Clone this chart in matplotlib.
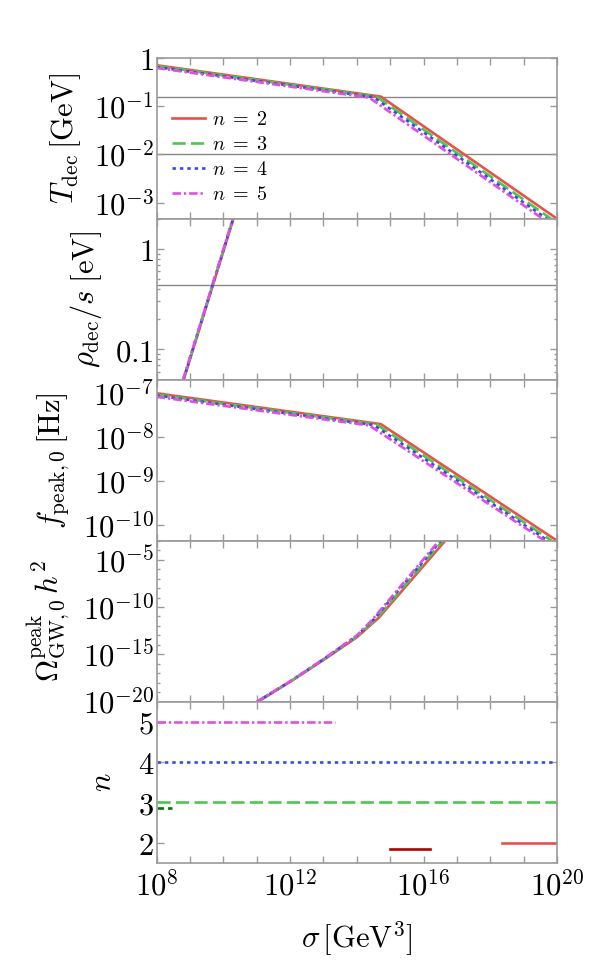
import numpy as np
import matplotlib
matplotlib.use("Agg")
import matplotlib.pyplot as plt
from matplotlib.ticker import FixedLocator, FuncFormatter, NullLocator, LogLocator

plt.rcParams['mathtext.fontset'] = 'cm'
plt.rcParams['font.family'] = ['DejaVu Serif']

# ---- data (log10 values) ----
n_vals = [2, 3, 4, 5]

# T_dec [GeV]
tdec_x = {2: [8, 14.72, 20.0], 3: [8, 14.60, 19.82], 4: [8, 14.50, 19.69], 5: [8, 14.37, 19.57]}
tdec_y = {2: [-0.157, -0.805, -3.33], 3: [-0.175, -0.810, -3.33], 4: [-0.195, -0.816, -3.33], 5: [-0.213, -0.826, -3.33]}

# rho_dec / s [eV]
rho_x = {2: [8.81, 10.30], 3: [8.80, 10.29], 4: [8.80, 10.29], 5: [8.79, 10.28]}
rho_y = {2: [-1.30, 0.30], 3: [-1.30, 0.30], 4: [-1.30, 0.30], 5: [-1.30, 0.30]}

# f_peak,0 [Hz]
fpk_x = {2: [8, 14.72, 20.0], 3: [8, 14.60, 19.84], 4: [8, 14.50, 19.73], 5: [8, 14.37, 19.63]}
fpk_y = {2: [-7.00, -7.70, -10.35], 3: [-7.03, -7.71, -10.35], 4: [-7.05, -7.72, -10.35], 5: [-7.08, -7.73, -10.35]}

# Omega_GW,0 h^2 peak
om_x = {2: [11.04, 12.0, 13.0, 14.0, 14.66, 16.65],
        3: [11.02, 12.0, 13.0, 14.0, 14.58, 16.58],
        4: [11.01, 12.0, 13.0, 14.0, 14.50, 16.52],
        5: [11.00, 12.0, 13.0, 14.0, 14.45, 16.47]}
om_y = {2: [-20, -17.90, -15.60, -13.20, -11.13, -3],
        3: [-20, -17.88, -15.56, -13.12, -11.25, -3],
        4: [-20, -17.86, -15.52, -13.05, -11.33, -3],
        5: [-20, -17.85, -15.50, -13.00, -11.40, -3]}

# n panel segments: (x_start, x_end, n)
seg_n5 = (8, 13.35, 5)
seg_n4 = (8, 20, 4)
seg_n3 = (8, 20, 3)
seg_n3_dark = (8, 8.46, 2.85)
seg_n2_dark = (14.99, 16.2, 1.84)
seg_n2 = (18.34, 20, 2)

# reference lines
tdec_hlines = [0.155, 0.01]
rho_hline = 0.44

colors = {2: '#e5534b', 3: '#4cc84c', 4: '#3b48e6', 5: '#e050e0'}
styles = {2: '-', 3: (0, (5.0, 2.0)), 4: (0, (1.3, 1.5)), 5: (0, (3.2, 1.1, 0.9, 1.1))}
lw = 1.9
gray = '#9a9a9a'

fig = plt.figure(figsize=(6.11, 9.76), dpi=100)
gs = fig.add_gridspec(5, 1, left=0.2565, right=0.9115, top=0.9409, bottom=0.1161, hspace=0)
axes = [fig.add_subplot(gs[i]) for i in range(5)]
for a in axes[1:]:
    a.sharex(axes[0])

tick_fs = 22
label_fs = 22


def pow_fmt(v, pos):
    e = int(round(np.log10(v)))
    return r'$10^{%d}$' % e


for ax in axes:
    ax.set_xscale('log')
    ax.set_xlim(1e8, 1e20)
    ax.xaxis.set_major_locator(FixedLocator([10.0 ** k for k in range(8, 21)]))
    ax.xaxis.set_minor_locator(NullLocator())
    ax.tick_params(which='both', direction='in', top=True, right=True, color=gray,
                   labelsize=tick_fs, width=1.0, pad=2)
    ax.tick_params(which='major', length=5)
    ax.tick_params(which='minor', length=2.5)
    for s in ax.spines.values():
        s.set_color(gray)
        s.set_linewidth(1.2)
    if ax is not axes[-1]:
        ax.tick_params(labelbottom=False)

# panel 1
ax = axes[0]
ax.set_yscale('log')
for y0 in tdec_hlines:
    ax.axhline(y0, color='#888888', lw=1.0, zorder=1)
for n in n_vals:
    ax.plot(10.0 ** np.array(tdec_x[n]), 10.0 ** np.array(tdec_y[n]), color=colors[n],
            linestyle=styles[n], lw=lw, label=r'$n\;=\;%d$' % n)
ax.set_ylim(10 ** -3.33, 1)
ax.yaxis.set_major_locator(FixedLocator([1e-3, 1e-2, 1e-1, 1]))
ax.yaxis.set_minor_locator(NullLocator())
ax.yaxis.set_major_formatter(FuncFormatter(lambda v, p: r'$1$' if v == 1 else pow_fmt(v, p)))
ax.set_ylabel(r'$T_{\rm dec}\,[{\rm GeV}]$', fontsize=label_fs, labelpad=8)
ax.legend(loc='upper left', bbox_to_anchor=(0.0375, 0.674), frameon=False, fontsize=14.5,
          handlelength=1.65, handletextpad=0.35, labelspacing=0.3, borderaxespad=0,
          borderpad=0)

# panel 2
ax = axes[1]
ax.set_yscale('log')
ax.axhline(rho_hline, color='#888888', lw=1.0, zorder=1)
for n in n_vals:
    ax.plot(10.0 ** np.array(rho_x[n]), 10.0 ** np.array(rho_y[n]), color=colors[n],
            linestyle=styles[n], lw=lw)
ax.set_ylim(0.05, 2.0)
ax.yaxis.set_major_locator(FixedLocator([0.1, 1]))
ax.yaxis.set_minor_locator(LogLocator(subs=np.arange(2, 10), numticks=10))
ax.yaxis.set_major_formatter(FuncFormatter(lambda v, p: r'$1$' if v > 0.5 else r'$0.1$'))
ax.yaxis.set_minor_formatter(FuncFormatter(lambda v, p: ''))
ax.set_ylabel(r'$\rho_{\rm dec}/s\;[{\rm eV}]$', fontsize=label_fs, labelpad=8)

# panel 3
ax = axes[2]
ax.set_yscale('log')
for n in n_vals:
    ax.plot(10.0 ** np.array(fpk_x[n]), 10.0 ** np.array(fpk_y[n]), color=colors[n],
            linestyle=styles[n], lw=lw)
ax.set_ylim(10 ** -10.35, 10 ** -6.69)
ax.yaxis.set_major_locator(FixedLocator([1e-10, 1e-9, 1e-8, 1e-7]))
ax.yaxis.set_minor_locator(NullLocator())
ax.yaxis.set_major_formatter(FuncFormatter(pow_fmt))
ax.set_ylabel(r'$f_{\rm peak,0}\,[{\rm Hz}]$', fontsize=label_fs, labelpad=8)

# panel 4
ax = axes[3]
ax.set_yscale('log')
for n in n_vals:
    ax.plot(10.0 ** np.array(om_x[n]), 10.0 ** np.array(om_y[n]), color=colors[n],
            linestyle=styles[n], lw=lw)
ax.set_ylim(1e-20, 1e-3)
ax.yaxis.set_major_locator(FixedLocator([1e-20, 1e-15, 1e-10, 1e-5]))
ax.yaxis.set_minor_locator(FixedLocator([10.0 ** k for k in range(-20, -2)]))
ax.yaxis.set_major_formatter(FuncFormatter(pow_fmt))
ax.yaxis.set_minor_formatter(FuncFormatter(lambda v, p: ''))
ax.set_ylabel(r'$\Omega^{\rm peak}_{\rm GW,0}\,h^2$', fontsize=label_fs, labelpad=8)

# panel 5
ax = axes[4]
ax.plot([10.0 ** seg_n5[0], 10.0 ** seg_n5[1]], [seg_n5[2]] * 2, color=colors[5], linestyle=styles[5], lw=lw)
ax.plot([10.0 ** seg_n4[0], 10.0 ** seg_n4[1]], [seg_n4[2]] * 2, color=colors[4], linestyle=styles[4], lw=lw)
ax.plot([10.0 ** seg_n3[0], 10.0 ** seg_n3[1]], [seg_n3[2]] * 2, color=colors[3], linestyle=styles[3], lw=lw)
ax.plot([10.0 ** seg_n3_dark[0], 10.0 ** seg_n3_dark[1]], [seg_n3_dark[2]] * 2, color='#007a00',
        linestyle=(0, (2.5, 1.5)), lw=lw)
ax.plot([10.0 ** seg_n2_dark[0], 10.0 ** seg_n2_dark[1]], [seg_n2_dark[2]] * 2, color='#b00000', lw=lw)
ax.plot([10.0 ** seg_n2[0], 10.0 ** seg_n2[1]], [seg_n2[2]] * 2, color=colors[2], lw=lw)
ax.set_ylim(1.5, 5.5)
ax.yaxis.set_major_locator(FixedLocator([2, 3, 4, 5]))
ax.yaxis.set_minor_locator(NullLocator())
ax.yaxis.set_major_formatter(FuncFormatter(lambda v, p: r'$%d$' % int(round(v))))
ax.set_ylabel(r'$n$', fontsize=label_fs, labelpad=14)
ax.xaxis.set_major_formatter(FuncFormatter(
    lambda v, p: pow_fmt(v, p) if int(round(np.log10(v))) % 4 == 0 else ''))
ax.tick_params(axis='x', pad=6)
ax.set_xlabel(r'$\sigma\,[{\rm GeV}^3]$', fontsize=label_fs, labelpad=12)

fig.savefig('out.png', dpi=100)
